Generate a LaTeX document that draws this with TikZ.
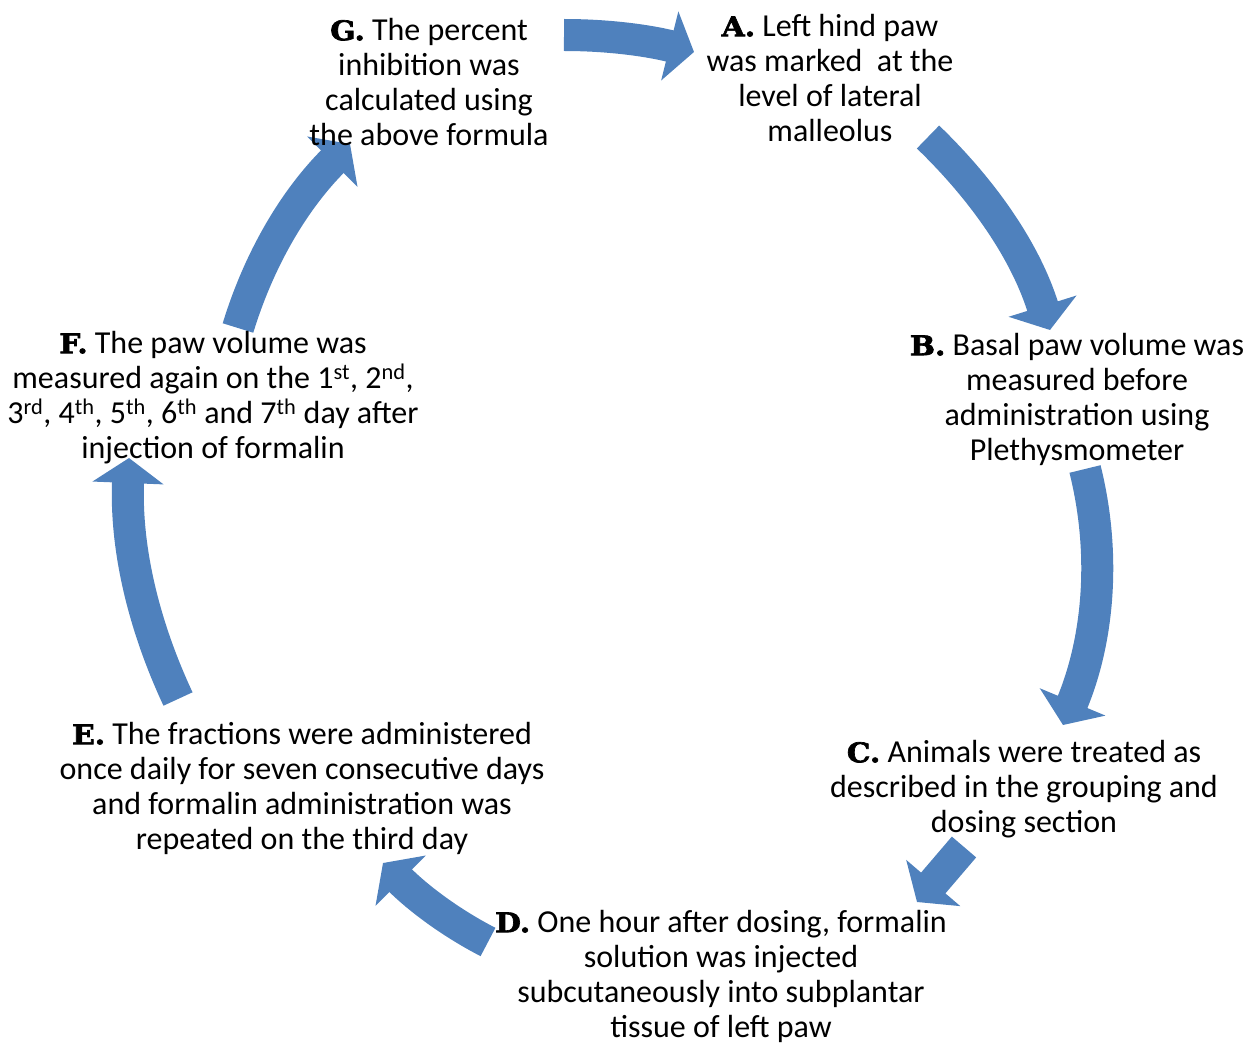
\documentclass[tikz,border=0pt]{standalone}
\usepackage{fontspec}
\setmainfont{Carlito}
\newfontfamily\lblfont[FakeStretch=1.1,FakeBold=2.5]{DejaVu Serif Bold}
\usetikzlibrary{arrows.meta}
\definecolor{arrowblue}{HTML}{4F81BD}
\newcommand\lbl[1]{{\lblfont\fontsize{27}{27}\selectfont #1}}
\newcommand\fl{\rule{0pt}{25pt}}
\begin{document}
\begin{tikzpicture}[x=1pt,y=-1pt,
  txt/.style={align=center, anchor=north, inner sep=0pt, font=\fontsize{32}{35}\selectfont},
  blockarrow/.style={draw=arrowblue, line width=32pt, line cap=butt,
    -{Triangle[width=70pt,length=25pt]}, looseness=0.9}]
\useasboundingbox (0,0) rectangle (1255,1043);
% arrow end points
\coordinate (gaT) at (564,35);   \coordinate (gaH) at (694,52);
\coordinate (abT) at (928,137);  \coordinate (abH) at (1050,330);
\coordinate (bcT) at (1085,469); \coordinate (bcH) at (1063,725);
\coordinate (cdT) at (964,847);  \coordinate (cdH) at (917,902);
\coordinate (deT) at (488,942);  \coordinate (deH) at (383,863);
\coordinate (efT) at (178,699);  \coordinate (efH) at (129,458);
\coordinate (fgT) at (238,328);  \coordinate (fgH) at (350,144);
% arrows
\draw[blockarrow] (gaT) to[out=0,in=166] (gaH);
\draw[blockarrow] (abT) to[out=-44,in=107.4] (abH);
\draw[blockarrow] (bcT) to[out=-76,in=67.4] (bcH);
\draw[blockarrow] (cdT) -- (cdH);
\draw[blockarrow] (deT) to[out=152.6,in=-45] (deH);
\draw[blockarrow] (efT) to[out=115,in=-92.3] (efH);
\draw[blockarrow] (fgT) to[out=73,in=-135] (fgH);
% texts
\node[txt] (A) at (830,11) {\fl\lbl{A.} Left hind paw\\was marked\ \ at the\\level of lateral\\malleolus};
\node[txt] (B) at (1077,330) {\fl\lbl{B.} Basal paw volume was\\measured before\\administration using\\Plethysmometer};
\node[txt] (C) at (1024,737) {\fl\lbl{C.} Animals were treated as\\described in the grouping and\\dosing section};
\node[txt] (D) at (721,907) {\fl\lbl{D.} One hour after dosing, formalin\\solution was injected\\subcutaneously into subplantar\\tissue of left paw};
\node[txt] (E) at (302,719) {\fl\lbl{E.} The fractions were administered\\once daily for seven consecutive days\\and formalin administration was\\repeated on the third day};
\node[txt] (F) at (213,328) {\fl\lbl{F.} The paw volume was\\measured again on the 1\textsuperscript{st}, 2\textsuperscript{nd},\\3\textsuperscript{rd}, 4\textsuperscript{th}, 5\textsuperscript{th}, 6\textsuperscript{th} and 7\textsuperscript{th} day after\\injection of formalin};
\node[txt] (G) at (429,15) {\fl\lbl{G.} The percent\\inhibition was\\calculated using\\the above formula};
\end{tikzpicture}
\end{document}
